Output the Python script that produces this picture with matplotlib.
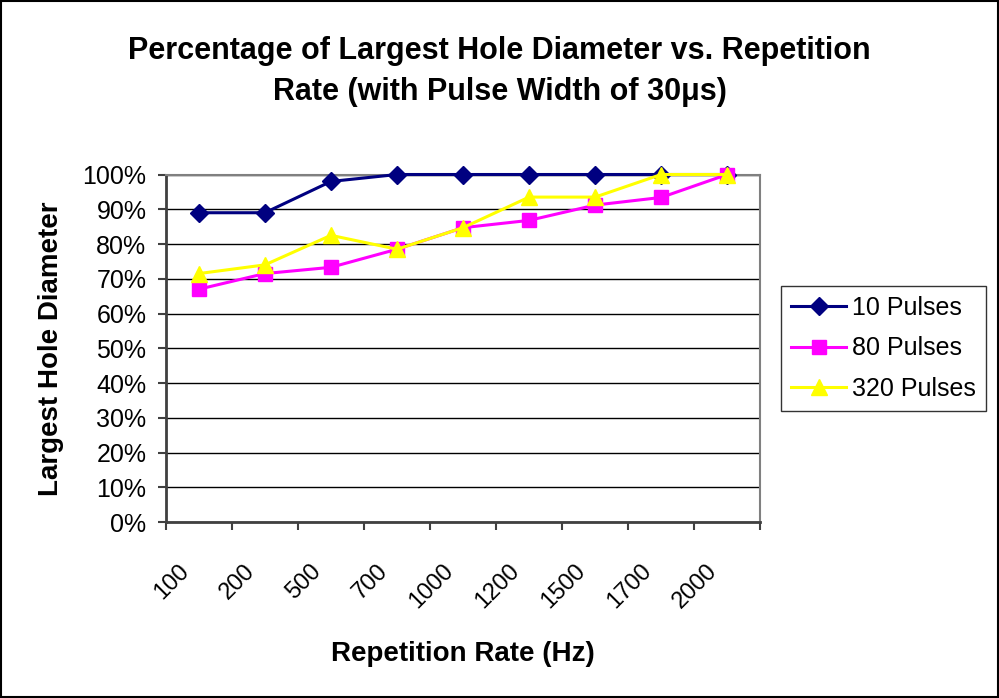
import matplotlib
matplotlib.use("Agg")
import matplotlib.pyplot as plt
from matplotlib.ticker import FixedLocator, FuncFormatter
from matplotlib.transforms import ScaledTranslation

plt.rcParams['font.family'] = ['Liberation Sans', 'DejaVu Sans']

rates = ['100', '200', '500', '700', '1000', '1200', '1500', '1700', '2000']
pulses_10 = [89, 89, 98, 100, 100, 100, 100, 100, 100]
pulses_80 = [67, 71.5, 73.3, 78.5, 84.7, 86.8, 91.2, 93.4, 100]
pulses_320 = [71.5, 74, 82.5, 78.5, 84.7, 93.5, 93.5, 100, 100]

fig = plt.figure(figsize=(9.99, 6.98), dpi=100)
ax = fig.add_axes([0.166, 0.252, 0.595, 0.498])

x = range(len(rates))
ax.plot(x, pulses_10, color='#000080', lw=2.2, marker='D', ms=9,
        label='10 Pulses', clip_on=False, zorder=3)
ax.plot(x, pulses_80, color='#FF00FF', lw=2.2, marker='s', ms=10.5,
        label='80 Pulses', clip_on=False, zorder=4)
ax.plot(x, pulses_320, color='#FFFF00', lw=2.2, marker='^', ms=12,
        label='320 Pulses', clip_on=False, zorder=5)

ax.set_xlim(-0.5, len(rates) - 0.5)
ax.set_ylim(0, 100)
ax.set_yticks(range(0, 101, 10))
ax.yaxis.set_major_formatter(FuncFormatter(lambda v, p: '%d%%' % v))
ax.grid(axis='y', color='black', lw=1)
ax.set_axisbelow(True)

# category ticks sit on the bin edges, labels on the bin centres
ax.xaxis.set_major_locator(FixedLocator([i - 0.5 for i in range(len(rates) + 1)]))
ax.xaxis.set_minor_locator(FixedLocator(list(x)))
ax.xaxis.set_major_formatter(FuncFormatter(lambda v, p: ''))
ax.set_xticklabels(rates, minor=True, rotation=45, ha='right', va='center',
                   rotation_mode='anchor', fontsize=17)
ax.tick_params(axis='x', which='minor', length=0, pad=33)
ax.tick_params(axis='x', which='major', length=6, width=1.5, color='#404040', direction='out')
ax.tick_params(axis='y', length=6, width=1.5, color='#404040', labelsize=18, pad=8)

# nudge the slanted labels left so their ends sit under the points
shift = ScaledTranslation(-13 / 100, 0, fig.dpi_scale_trans)
for lab in ax.get_xticklabels(minor=True):
    lab.set_transform(lab.get_transform() + shift)

for s in ['top', 'right']:
    ax.spines[s].set_color('#808080')
    ax.spines[s].set_linewidth(1.5)
for s in ['left', 'bottom']:
    ax.spines[s].set_color('#404040')
    ax.spines[s].set_linewidth(2)

ax.set_ylabel('Largest Hole Diameter', fontsize=20, fontweight='bold', va='center')
ax.yaxis.set_label_coords(-0.193, 0.5)
ax.set_xlabel('Repetition Rate (Hz)', fontsize=20, fontweight='bold', va='center')
ax.xaxis.set_label_coords(0.5, -0.38)

fig.text(0.5, 0.898, 'Percentage of Largest Hole Diameter vs. Repetition\nRate (with Pulse Width of 30μs)',
         ha='center', va='center', fontsize=22, fontweight='bold', linespacing=1.49)

leg = ax.legend(loc='center left', bbox_to_anchor=(1.035, 0.5), fontsize=18,
                frameon=True, fancybox=False, edgecolor='black', handlelength=2.2,
                handletextpad=0.25, labelspacing=0.65, borderpad=0.4, borderaxespad=0)
leg.get_frame().set_linewidth(1)

fig.patches.append(plt.Rectangle((0.001, 0.001), 0.998, 0.998, transform=fig.transFigure,
                                 fill=False, edgecolor='black', lw=1.5))

fig.savefig('out.png', dpi=100)
